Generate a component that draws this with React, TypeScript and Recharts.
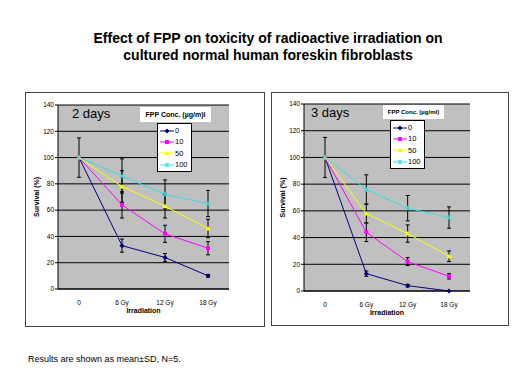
import React from 'react';
import { LineChart, Line, XAxis, YAxis, CartesianGrid, ErrorBar } from 'recharts';

const categories = ['0', '6 Gy', '12 Gy', '18 Gy'];
const yTicks = [0, 20, 40, 60, 80, 100, 120, 140];
const seriesNames = ['0', '10', '50', '100'];
const seriesColors = ['#000080', '#ff00ff', '#ffff00', '#33dde6'];

// 2 days
const day2Conc0 = [100, 33, 24, 10];
const day2Conc10 = [100, 64, 42, 31];
const day2Conc50 = [100, 78, 63, 46];
const day2Conc100 = [100, 86, 72, 65];
const day2Sd0 = [15, 5, 3, 1];
const day2Sd10 = [null, 10, 6.5, 5];
const day2Sd50 = [null, 12, 9, 7];
const day2Sd100 = [null, 13, 11, 10];

// 3 days
const day3Conc0 = [100, 13, 4, 0];
const day3Conc10 = [100, 44, 22, 11];
const day3Conc50 = [100, 58, 43, 26];
const day3Conc100 = [100, 76, 62, 55];
const day3Sd0 = [15, 2, 1, null];
const day3Sd10 = [null, 7, 3, 2];
const day3Sd50 = [null, 7, 6.5, 4];
const day3Sd100 = [null, 11, 9.5, 8];

const buildRows = (vals: number[][], sds: (number | null)[][]) =>
  categories.map((c, i) => {
    const row: any = { cat: c };
    vals.forEach((v, k) => {
      row[`s${k}`] = v[i];
      row[`e${k}`] = sds[k][i];
    });
    return row;
  });

const day2Data = buildRows(
  [day2Conc0, day2Conc10, day2Conc50, day2Conc100],
  [day2Sd0, day2Sd10, day2Sd50, day2Sd100]
);
const day3Data = buildRows(
  [day3Conc0, day3Conc10, day3Conc50, day3Conc100],
  [day3Sd0, day3Sd10, day3Sd50, day3Sd100]
);

const FONT = '"Liberation Sans", Arial, sans-serif';

const Marker = ({ cx, cy, idx, color }: any) => {
  if (cx == null || cy == null) return null;
  if (idx === 0)
    return <polygon points={`${cx},${cy - 2.5} ${cx + 2.5},${cy} ${cx},${cy + 2.5} ${cx - 2.5},${cy}`} fill={color} />;
  if (idx === 1) return <rect x={cx - 2} y={cy - 2} width={4} height={4} fill={color} />;
  if (idx === 2)
    return <polygon points={`${cx},${cy - 2.6} ${cx + 2.6},${cy + 2} ${cx - 2.6},${cy + 2}`} fill={color} />;
  return (
    <g stroke={color} strokeWidth={1}>
      <line x1={cx - 2} y1={cy - 2} x2={cx + 2} y2={cy + 2} />
      <line x1={cx - 2} y1={cy + 2} x2={cx + 2} y2={cy - 2} />
      <line x1={cx} y1={cy - 2.5} x2={cx} y2={cy + 2.5} />
    </g>
  );
};

// legend box drawn over the plot, like the Excel one
const LegendBox = ({ x, y }: any) => (
  <div
    style={{
      position: 'absolute',
      left: x,
      top: y,
      background: '#fff',
      border: '1px solid #000',
      padding: '1px 3px 1px 2px',
      fontFamily: FONT,
      fontSize: 7.5,
    }}
  >
    {seriesNames.map((name, i) => (
      <div key={name} style={{ display: 'flex', alignItems: 'center', height: 11.3 }}>
        <svg width={14} height={8}>
          <line x1={0} y1={4} x2={14} y2={4} stroke={seriesColors[i]} strokeWidth={1} />
          <Marker cx={7} cy={4} idx={i} color={seriesColors[i]} />
        </svg>
        <span style={{ marginLeft: 1, color: '#000' }}>{name}</span>
      </div>
    ))}
  </div>
);

const Panel = ({ data, label, labelPos, legendTitle, titleFont, box, plot, legendPos, titlePos }: any) => {
  const width = box.w;
  const height = box.h;
  return (
    <div
      style={{
        position: 'absolute',
        left: box.x,
        top: box.y,
        width,
        height,
        border: '1px solid #444',
        boxSizing: 'border-box',
        background: '#fff',
      }}
    >
      <LineChart
        width={width - 2}
        height={height - 2}
        data={data}
        margin={{ top: plot.top, right: plot.right, left: 0, bottom: 0 }}
        style={{ fontFamily: FONT }}
      >
        <CartesianGrid vertical={false} stroke="#000" strokeWidth={1} fill="#c0c0c0" />
        <XAxis
          dataKey="cat"
          height={plot.bottom}
          padding={{ left: 21, right: 21 }}
          tickLine={false}
          stroke="#000"
          tick={{ fill: '#000', fontSize: 6.5 }}
          tickMargin={5}
          label={({ viewBox }: any) => (
            <text
              x={viewBox.x + viewBox.width / 2}
              y={viewBox.y + 24}
              textAnchor="middle"
              fontSize={7}
              fontWeight="bold"
              fill="#000"
            >
              Irradiation
            </text>
          )}
        />
        <YAxis
          width={plot.left}
          domain={[0, 140]}
          ticks={yTicks}
          interval={0}
          stroke="#000"
          tickSize={3}
          tickMargin={1}
          tick={{ fill: '#000', fontSize: 6.5 }}
          label={({ viewBox }: any) => {
            const cx = viewBox.x + 13;
            const cy = viewBox.y + viewBox.height / 2;
            return (
              <text
                x={cx}
                y={cy}
                transform={`rotate(-90 ${cx} ${cy})`}
                textAnchor="middle"
                fontSize={7}
                fontWeight="bold"
                fill="#000"
              >
                Survival (%)
              </text>
            );
          }}
        />
        {seriesNames.map((name, k) => (
          <Line
            key={name}
            type="linear"
            dataKey={`s${k}`}
            name={name}
            stroke={seriesColors[k]}
            strokeWidth={1}
            isAnimationActive={false}
            dot={(p: any) => <Marker key={`${name}-${p.index}`} cx={p.cx} cy={p.cy} idx={k} color={seriesColors[k]} />}
          >
            <ErrorBar dataKey={`e${k}`} width={2} stroke="#000" strokeWidth={1} direction="y" />
          </Line>
        ))}
      </LineChart>
      <div
        style={{
          position: 'absolute',
          left: labelPos.x,
          top: labelPos.y,
          fontFamily: FONT,
          fontSize: 13,
          lineHeight: '15px',
          color: '#000',
        }}
      >
        {label}
      </div>
      <div
        style={{
          position: 'absolute',
          left: titlePos.x,
          top: titlePos.y,
          width: titlePos.w,
          height: titlePos.h,
          background: '#fff',
          fontFamily: FONT,
          fontSize: titleFont,
          fontWeight: 'bold',
          display: 'flex',
          alignItems: 'center',
          justifyContent: 'center',
          color: '#000',
        }}
      >
        {legendTitle}
      </div>
      <LegendBox x={legendPos.x} y={legendPos.y} />
    </div>
  );
};

export default function App() {
  return (
    <div style={{ position: 'absolute', left: 0, top: 0, width: 520, height: 390, background: '#fff', fontFamily: FONT }}>
      <div
        style={{
          position: 'absolute',
          left: 0,
          top: 30,
          width: 536,
          textAlign: 'center',
          fontSize: 14,
          fontWeight: 'bold',
          lineHeight: '17px',
          color: '#000',
        }}
      >
        Effect of FPP on toxicity of radioactive irradiation on
        <br />
        cultured normal human foreskin fibroblasts
      </div>
      <Panel
        data={day2Data}
        label="2 days"
        labelPos={{ x: 46, y: 13 }}
        legendTitle="FPP Conc. (µg/m)l"
        titleFont={7}
        box={{ x: 25, y: 92, w: 240, h: 235 }}
        plot={{ top: 12, right: 35, bottom: 37, left: 32 }}
        legendPos={{ x: 131, y: 30 }}
        titlePos={{ x: 114, y: 14, w: 71, h: 15 }}
      />
      <Panel
        data={day3Data}
        label="3 days"
        labelPos={{ x: 39, y: 12 }}
        legendTitle="FPP Conc. (µg/ml)"
        titleFont={6}
        box={{ x: 271, y: 92, w: 238, h: 234 }}
        plot={{ top: 11, right: 38, bottom: 34, left: 32 }}
        legendPos={{ x: 118, y: 27 }}
        titlePos={{ x: 111, y: 12, w: 61, h: 14 }}
      />
      <div style={{ position: 'absolute', left: 28, top: 354, fontSize: 9, color: '#000' }}>
        Results are shown as mean±SD, N=5.
      </div>
    </div>
  );
}
